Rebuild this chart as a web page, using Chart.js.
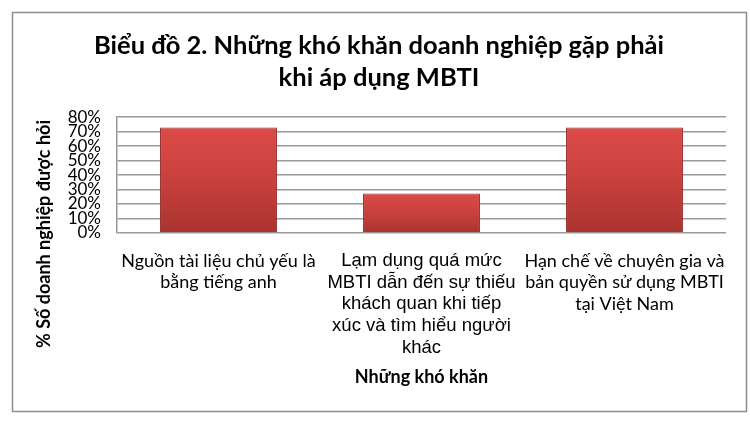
<!DOCTYPE html>
<html>
<head>
  <meta charset="UTF-8" />
  <title>Biểu đồ 2</title>
  <script src="https://cdn.jsdelivr.net/npm/chart.js"></script>
  <style>
    body { margin: 0; background: #fff; }
  </style>
</head>
<body>

<canvas id="chart" width="750" height="429"></canvas>

<script>
  // data
  const categories = [
    ['Nguồn tài liệu chủ yếu là', 'bằng tiếng anh'],
    ['Lạm dụng quá mức', 'MBTI dẫn đến sự thiếu', 'khách quan khi tiếp', 'xúc và tìm hiểu người', 'khác'],
    ['Hạn chế về chuyên gia và', 'bản quyền sử dụng MBTI', 'tại Việt Nam']
  ];
  const percentValues = [72.7, 27.3, 72.7];
  const titleLines = ['Biểu đồ 2. Những khó khăn doanh nghiệp gặp phải', 'khi áp dụng MBTI'];
  const xTitle = 'Những khó khăn';
  const yTitle = '% Số doanh nghiệp được hỏi';

  const calibriLike = 'Lato, "Open Sans", sans-serif';
  const arialLike = '"Liberation Sans", Arial, sans-serif';

  // frame around the whole chart + rotated y title (centered on whole chart, like Excel)
  const framePlugin = {
    id: 'frame',
    beforeDraw(chart) {
      const c = chart.ctx;
      c.save();
      c.fillStyle = '#fff';
      c.fillRect(0, 0, chart.width, chart.height);
      c.strokeStyle = '#8c8c8c';
      c.lineWidth = 1.5;
      c.strokeRect(12.5, 12.5, 734, 399);
      c.restore();
    },
    afterDraw(chart) {
      const c = chart.ctx;
      c.save();
      c.translate(44, 234);
      c.rotate(-Math.PI / 2);
      c.font = 'bold 18px ' + calibriLike;
      c.fillStyle = '#000';
      c.textAlign = 'center';
      c.textBaseline = 'middle';
      c.fillText(yTitle, 0, 0);
      c.restore();
    }
  };

  function barFill(context) {
    const chart = context.chart;
    const y = chart.scales.y;
    if (!y || !chart.chartArea) return '#C0504D';
    const v = context.raw;
    const top = y.getPixelForValue(v);
    const bottom = y.getPixelForValue(0);
    const g = chart.ctx.createLinearGradient(0, top, 0, bottom);
    g.addColorStop(0, '#DC4B48');
    g.addColorStop(0.5, '#C8403D');
    g.addColorStop(1, '#A9332F');
    return g;
  }

  const ctx = document.getElementById('chart').getContext('2d');
  new Chart(ctx, {
    type: 'bar',
    data: {
      labels: categories,
      datasets: [{
        data: percentValues,
        backgroundColor: barFill,
        borderColor: '#8E2A27',
        borderWidth: 1,
        categoryPercentage: 1,
        barPercentage: 0.576
      }]
    },
    options: {
      responsive: false,
      animation: false,
      layout: { padding: { left: 32, right: 24, top: 0, bottom: 0 } },
      plugins: {
        legend: { display: false },
        tooltip: { enabled: false },
        title: {
          display: true,
          text: titleLines,
          color: '#000',
          font: { family: calibriLike, size: 25.5, weight: 'bold', lineHeight: 1.24 },
          padding: { top: 30, bottom: 23.8 }
        }
      },
      scales: {
        x: {
          grid: { display: false, drawTicks: false },
          border: { display: false },
          ticks: {
            color: '#000',
            maxRotation: 0,
            autoSkip: false,
            padding: 17,
            font: (c) => c.index === 1
              ? { family: arialLike, size: 18.5, lineHeight: '21.7px' }
              : { family: calibriLike, size: 18, lineHeight: '21.7px' }
          },
          title: {
            display: true,
            text: xTitle,
            color: '#000',
            font: { family: calibriLike, size: 18, weight: 'bold' },
            padding: { top: 0, bottom: 41 }
          },
          afterFit(scale) { scale.height = 196; }
        },
        y: {
          min: 0,
          max: 80,
          grid: { color: '#9a9a9a', lineWidth: 1.5, drawTicks: false },
          border: { display: true, color: '#9a9a9a', width: 1.5 },
          ticks: {
            stepSize: 10,
            autoSkip: false,
            color: '#000',
            padding: 16,
            font: { family: calibriLike, size: 17, lineHeight: 1 },
            callback: (v) => v + '%'
          },
          afterFit(scale) { scale.width = 85; }
        }
      }
    },
    plugins: [framePlugin]
  });
</script>

</body>
</html>
